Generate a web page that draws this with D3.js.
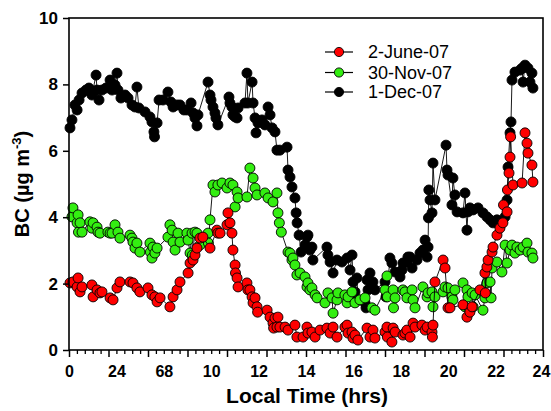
<!DOCTYPE html>
<html><head><meta charset="utf-8">
<script src="https://cdn.jsdelivr.net/npm/d3@7"></script>
<style>html,body{margin:0;padding:0;background:#fff;} svg{display:block;font-family:"Liberation Sans",Arial,Helvetica,sans-serif;}</style>
</head><body><svg id="chart" width="551" height="411"></svg>
<script>
const seriesNames = ["2-June-07", "30-Nov-07", "1-Dec-07"];
const seriesColors = ["#ff0000", "#33ee11", "#000000"];
const xTickLabels = ["0", "24", "68", "10", "12", "14", "16", "18", "20", "22", "24"];
const yTicks = [0, 2, 4, 6, 8, 10];

const redHours = [0.05,0.20,0.41,0.46,0.56,0.66,1.16,1.22,1.42,1.57,1.67,2.08,2.23,2.43,2.58,3.09,3.24,3.44,3.59,4.00,4.20,4.35,4.46,4.61,5.11,5.27,5.47,5.62,6.03,6.13,6.28,6.38,6.48,6.63,6.78,7.14,7.49,7.54,7.65,8.00,8.05,8.15,8.25,8.30,8.41,8.43,8.51,8.56,9.01,9.06,9.16,9.27,9.32,9.42,9.52,9.55,10.03,10.18,10.33,10.36,10.43,10.53,10.58,10.68,10.94,11.09,11.44,11.54,11.85,12.05,12.10,12.30,12.46,12.71,13.06,13.22,13.37,13.57,13.97,14.08,14.13,14.33,14.38,14.48,14.63,15.09,15.24,15.39,15.49,16.00,16.10,16.12,16.35,16.41,16.51,16.91,17.01,17.11,17.27,17.42,17.52,17.87,18.03,18.13,18.38,18.40,18.43,18.53,18.94,19.04,19.19,19.29,19.95,20.15,20.30,20.41,20.81,21.06,21.08,21.16,21.22,21.42,21.47,21.67,21.82,21.97,22.00,22.18,22.20,22.28,22.33,22.36,22.48,22.94,23.09,23.19,23.24,23.44,23.49];
const redBC = [2.02,2.05,1.90,2.17,1.75,1.90,1.96,1.60,1.81,1.72,1.75,1.57,1.51,1.87,2.05,2.05,2.02,1.87,1.75,1.87,1.66,1.60,1.45,1.57,1.30,1.60,1.81,2.05,2.32,2.62,2.71,2.86,3.07,3.37,3.40,3.07,3.61,3.52,3.52,3.77,4.13,3.83,3.52,3.01,2.56,2.32,2.17,1.90,2.02,1.81,1.81,1.60,1.42,1.57,1.30,1.14,1.20,0.99,0.81,0.66,0.96,0.69,0.99,0.69,0.69,0.60,0.75,0.39,0.39,0.69,0.51,0.54,0.39,0.60,0.66,0.51,0.69,0.39,0.69,0.75,0.51,0.54,0.36,0.45,0.30,0.66,0.39,0.60,0.36,0.54,0.69,0.39,0.24,0.66,0.54,0.45,0.51,0.60,0.39,0.81,0.69,0.75,0.60,0.69,0.54,0.39,0.75,2.05,2.71,2.47,1.27,1.27,1.36,0.99,1.14,1.30,1.81,2.32,1.72,2.50,2.71,2.95,3.10,3.46,3.67,3.83,4.37,4.16,4.82,5.33,5.81,6.42,4.97,5.03,6.54,6.23,5.93,5.57,5.06];

const greenHours = [0.15,0.20,0.41,0.46,0.48,0.56,0.66,1.06,1.16,1.22,1.42,1.47,1.57,1.97,2.08,2.18,2.33,2.48,2.58,3.09,3.19,3.24,3.34,3.44,3.59,4.10,4.12,4.20,4.25,4.35,4.46,5.01,5.11,5.22,5.27,5.37,5.52,5.62,5.97,6.03,6.13,6.23,6.25,6.38,6.48,6.63,7.04,7.06,7.14,7.29,7.39,7.54,7.75,8.00,8.15,8.30,8.41,8.51,8.56,9.01,9.16,9.32,9.42,9.52,9.92,10.08,10.33,10.53,10.58,10.65,10.75,11.09,11.19,11.29,11.34,11.44,11.54,11.70,11.95,12.05,12.10,12.20,12.30,12.46,12.56,12.96,13.11,13.32,13.37,13.57,13.62,13.97,14.08,14.13,14.33,14.48,14.73,14.99,15.34,15.49,16.00,16.10,16.12,16.41,16.43,16.51,16.91,17.01,17.11,17.37,17.42,17.52,17.92,18.13,18.18,18.38,18.43,18.53,18.94,19.04,19.19,19.39,19.44,19.54,19.95,20.05,20.15,20.20,20.41,20.46,20.56,20.96,21.06,21.16,21.32,21.37,21.42,21.67,21.92,22.08,22.18,22.33,22.43,22.58,22.68,22.84,22.99,23.19,23.24,23.44,23.49];
const greenBC = [4.01,4.28,3.83,4.07,3.55,3.83,3.55,3.86,3.67,3.83,3.70,3.55,3.52,3.55,3.52,3.52,3.77,3.55,3.37,3.46,3.37,3.25,3.07,3.22,2.95,3.22,2.95,2.77,3.10,2.92,3.07,3.40,3.77,3.61,3.25,3.01,3.52,3.25,3.52,3.31,2.92,3.52,2.86,3.55,3.52,3.16,3.52,3.22,3.92,4.97,4.76,4.97,5.03,4.88,5.03,4.97,4.31,4.76,4.58,4.61,5.48,5.18,4.88,4.67,4.73,4.58,4.46,4.73,4.13,3.83,3.55,2.95,2.92,2.71,2.77,2.56,2.26,2.32,2.20,1.90,2.02,1.81,1.87,1.66,1.57,1.42,1.72,1.57,1.11,1.51,1.72,1.66,1.42,1.60,1.75,1.42,1.51,1.57,1.27,1.20,1.81,2.23,1.60,1.81,1.27,1.57,1.81,1.75,1.57,1.81,1.51,1.27,1.90,1.60,1.72,1.75,1.30,1.60,1.75,1.90,1.87,1.60,1.51,1.81,2.02,1.30,1.81,1.60,1.72,1.30,1.66,1.20,1.57,2.02,2.05,1.57,2.47,2.65,2.35,3.16,2.62,3.01,3.16,2.92,3.10,3.01,3.10,3.22,2.95,2.92,2.77];

const blackHours = [0.05,0.15,0.30,0.41,0.51,0.66,0.86,1.01,1.16,1.37,1.42,1.52,1.67,1.87,2.08,2.18,2.33,2.43,2.48,2.63,2.84,2.99,3.19,3.34,3.44,3.54,3.85,4.10,4.20,4.30,4.33,4.46,4.56,4.76,5.01,5.16,5.27,5.47,5.62,5.82,5.97,6.18,6.28,6.38,6.48,6.53,7.04,7.14,7.19,7.29,7.39,7.44,7.54,8.10,8.15,8.25,8.30,8.41,8.51,8.56,8.91,9.01,9.06,9.27,9.32,9.42,9.47,9.57,9.77,9.92,10.08,10.18,10.28,10.43,10.53,10.68,11.04,11.09,11.19,11.29,11.44,11.50,11.55,11.65,11.75,11.95,12.05,12.10,12.20,12.30,12.35,13.06,13.11,13.22,13.37,13.57,13.82,14.08,14.23,14.33,14.38,14.48,14.58,14.63,14.99,15.04,15.09,15.14,15.24,15.39,15.49,16.00,16.05,16.10,16.25,16.35,16.51,16.76,16.86,16.91,17.11,17.16,17.27,17.37,17.62,17.77,17.92,18.03,18.13,18.18,18.20,18.22,18.28,18.38,18.43,18.53,19.09,19.14,19.19,19.39,19.44,19.54,19.65,19.95,20.05,20.15,20.20,20.30,20.46,20.71,20.96,21.16,21.32,21.47,21.67,21.92,22.08,22.18,22.23,22.33,22.38,22.43,22.58,22.84,22.94,22.99,23.09,23.24,23.34,23.44,23.49];
const blackBC = [6.69,6.93,7.38,7.23,7.53,7.74,7.83,7.89,7.68,8.28,7.83,7.53,7.83,7.89,8.13,7.83,7.98,8.34,7.83,7.59,7.68,7.59,7.38,7.32,7.92,7.29,7.17,7.02,6.87,6.57,6.42,6.84,7.53,7.53,7.77,7.47,7.32,7.38,7.38,7.23,7.23,7.44,7.14,6.99,6.75,7.08,8.07,7.68,7.53,7.32,7.14,6.99,6.78,7.62,7.44,7.32,7.08,7.02,6.99,7.29,7.44,8.34,7.44,8.07,7.44,6.99,6.54,6.84,6.93,6.78,7.32,7.08,6.69,6.57,6.02,6.02,6.11,5.42,5.21,4.91,4.58,4.13,3.83,3.46,2.95,3.16,3.40,3.46,3.01,3.10,2.71,3.10,2.86,2.65,2.32,2.71,2.65,2.77,2.41,2.86,2.05,1.75,2.17,1.51,1.42,1.27,2.11,1.81,2.32,2.05,1.81,2.05,1.60,1.66,2.77,2.62,2.35,2.20,2.41,2.62,2.65,2.80,2.80,2.47,2.71,2.92,3.01,3.31,2.80,3.10,3.98,4.82,4.52,4.13,5.63,4.52,6.17,5.42,5.27,4.37,5.18,4.67,4.16,4.13,4.73,3.61,4.16,4.28,4.22,4.28,4.13,4.01,3.92,3.83,3.92,3.86,4.01,4.52,5.51,6.54,6.87,8.13,8.37,8.43,8.49,8.07,8.58,8.49,8.07,8.34,7.89];

const series = [
  {name: seriesNames[0], color: seriesColors[0], hours: redHours, bc: redBC},
  {name: seriesNames[1], color: seriesColors[1], hours: greenHours, bc: greenBC},
  {name: seriesNames[2], color: seriesColors[2], hours: blackHours, bc: blackBC}
];

const svg = d3.select("#chart");
const x = d3.scaleLinear().domain([0, 24]).range([69, 543]);
const y = d3.scaleLinear().domain([0, 10]).range([350, 18]);
const xLab = d3.scaleLinear().domain([0, xTickLabels.length - 1]).range(x.range());
const fontTick = "bold 16px 'Liberation Sans', Arial, sans-serif";

// data layer: draw black first, then green, then red
const drawOrder = [2, 1, 0];
const line = d3.line().x(d => x(d[0])).y(d => y(d[1]));
drawOrder.forEach(i => {
  const s = series[i];
  const pts = s.hours.map((h, k) => [h, s.bc[k]]);
  const g = svg.append("g");
  g.append("path").datum(pts).attr("d", line)
    .attr("fill", "none").attr("stroke", "#000").attr("stroke-width", 0.9);
  g.selectAll("circle").data(pts).join("circle")
    .attr("cx", d => x(d[0])).attr("cy", d => y(d[1])).attr("r", 5)
    .attr("fill", s.color).attr("stroke", "#000").attr("stroke-width", 0.9);
});

// frame
svg.append("rect")
  .attr("x", x.range()[0]).attr("y", y.range()[1])
  .attr("width", x.range()[1] - x.range()[0]).attr("height", y.range()[0] - y.range()[1])
  .attr("fill", "none").attr("stroke", "#000").attr("stroke-width", 1.6);

// x axis minor + major ticks
const majorX = d3.range(0, 24.001, 2);
const minorX = d3.range(0, 24.001, 0.4).filter(v => Math.abs(v / 2 - Math.round(v / 2)) > 0.01);
svg.append("g").attr("transform", `translate(0,${y(0)})`)
  .call(d3.axisBottom(x).tickValues(minorX).tickSize(4).tickFormat(""))
  .call(g => g.select(".domain").remove())
  .selectAll("line").attr("stroke-width", 1.3);
svg.append("g").attr("transform", `translate(0,${y(0)})`)
  .call(d3.axisBottom(x).tickValues(majorX).tickSize(7).tickFormat(""))
  .call(g => g.select(".domain").remove())
  .selectAll("line").attr("stroke-width", 1.5);
// x labels
svg.append("g").attr("transform", `translate(0,${y(0)})`)
  .call(d3.axisBottom(xLab).tickValues(d3.range(xTickLabels.length)).tickSize(0).tickPadding(16).tickFormat(i => xTickLabels[i]))
  .call(g => g.select(".domain").remove())
  .selectAll("text").style("font", fontTick).attr("fill", "#000")
  .attr("dx", (d, i) => i === xTickLabels.length - 1 ? -2 : 0);

// y axis
svg.append("g").attr("transform", `translate(${x(0)},0)`)
  .call(d3.axisLeft(y).tickValues(yTicks).tickSize(6).tickPadding(5).tickFormat(d3.format("d")))
  .call(g => g.select(".domain").remove())
  .call(g => g.selectAll("line").attr("stroke-width", 1.5))
  .selectAll("text").style("font", "bold 17px 'Liberation Sans', Arial, sans-serif").attr("fill", "#000");

// axis titles
svg.append("text").attr("x", 307).attr("y", 403).attr("text-anchor", "middle")
  .style("font", "bold 21px 'Liberation Sans', Arial, sans-serif").text("Local Time (hrs)");
const yt = svg.append("text").attr("transform", "translate(29,184) rotate(-90)").attr("text-anchor", "middle")
  .style("font", "bold 20px 'Liberation Sans', Arial, sans-serif");
yt.append("tspan").text("BC (\u00b5g m");
yt.append("tspan").attr("dy", -8).style("font-size", "13px").text("-3");
yt.append("tspan").attr("dy", 8).text(")");

// legend
const legY = [52, 72.5, 92];
series.forEach((s, i) => {
  const g = svg.append("g");
  g.append("line").attr("x1", 325).attr("x2", 353).attr("y1", legY[i]).attr("y2", legY[i])
    .attr("stroke", "#000").attr("stroke-width", 1.2);
  g.append("circle").attr("cx", 339).attr("cy", legY[i]).attr("r", 4.6)
    .attr("fill", s.color).attr("stroke", "#000").attr("stroke-width", 0.9);
  g.append("text").attr("x", 368).attr("y", legY[i]).attr("dy", "0.36em")
    .style("font", "18px 'Liberation Sans', Arial, sans-serif").text(s.name);
});
</script></body></html>
